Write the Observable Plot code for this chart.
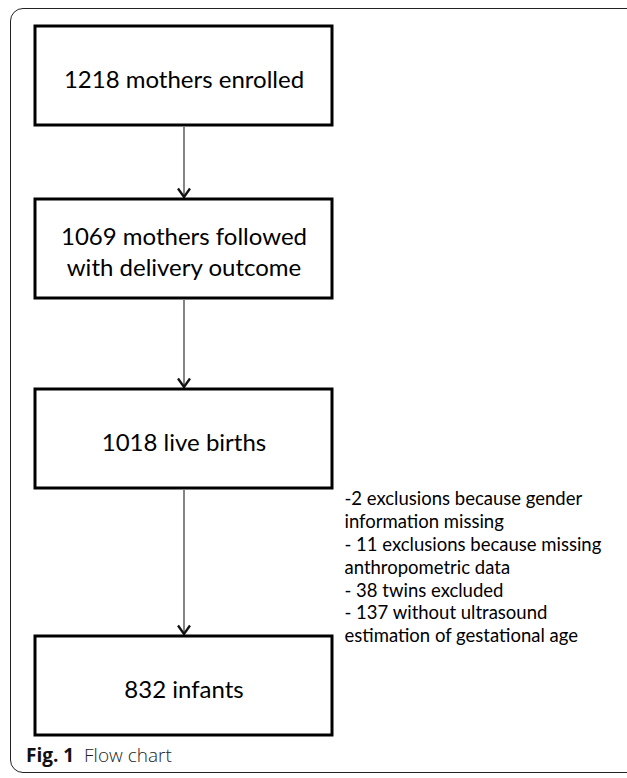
<!DOCTYPE html>
<html>
<head>
<meta charset="utf-8">
<script src="https://cdn.jsdelivr.net/npm/d3@7"></script>
<script src="https://cdn.jsdelivr.net/npm/@observablehq/plot@0.6"></script>
<style>
  body { margin: 0; background: #fff; }
  #wrap { position: relative; width: 627px; height: 778px; overflow: hidden; background: #fff; }
  #frame { position: absolute; left: 10px; top: 8px; width: 700px; height: 765px; border: 1px solid #222; border-radius: 13px; box-sizing: border-box; }
  #chart { position: absolute; left: 0; top: 0; }
  #caption { position: absolute; left: 26px; top: 742px; font-family: "Open Sans", sans-serif; font-size: 19px; color: #222; white-space: pre; }
  #caption b { font-weight: 700; color: #111; }
  #caption span { font-weight: 300; }
</style>
</head>
<body>
<div id="wrap">
  <div id="frame"></div>
  <div id="chart"></div>
  <div id="caption"></div>
</div>
<script>
// ---- data ----
const stageLabels = [
  "1218 mothers enrolled",
  "1069 mothers followed\nwith delivery outcome",
  "1018 live births",
  "832 infants"
];
const stageCounts = [1218, 1069, 1018, 832];
const exclusionNotes = [
  "-2 exclusions because gender",
  "information missing",
  "- 11 exclusions because missing",
  "anthropometric data",
  "- 38 twins excluded",
  "- 137 without ultrasound",
  "estimation of gestational age"
];
const captionLabel = "Fig. 1";
const captionText = "Flow chart";

// ---- layout (separate from data) ----
const layout = {
  boxLeft: 35, boxRight: 332,
  boxTops: [26, 199, 389, 636],
  boxHeight: 99,
  notesX: 344,
  notesAfterStage: 2
};

const stages = stageLabels.map((label, i) => ({
  label, count: stageCounts[i],
  y1: layout.boxTops[i], y2: layout.boxTops[i] + layout.boxHeight
}));
const links = stages.slice(1).map((s, i) => ({ from: stages[i], to: s }));
const cx = (layout.boxLeft + layout.boxRight) / 2;

const vSymbol = {
  draw(context) {
    context.moveTo(-6, -8.5);
    context.lineTo(0, 0);
    context.lineTo(6, -8.5);
  }
};

const chart = Plot.plot({
  width: 627,
  height: 742,
  margin: 0,
  style: { background: "transparent", overflow: "visible" },
  x: { domain: [0, 627], range: [0, 627], axis: null },
  y: { domain: [0, 742], range: [0, 742], axis: null },
  marks: [
    Plot.link(links, {
      x1: cx, x2: cx,
      y1: d => d.from.y2 + 1.5, y2: d => d.to.y1 - 2,
      stroke: "#333", strokeWidth: 1.2
    }),
    Plot.dot(links, {
      x: cx, y: d => d.to.y1 - 2.5,
      symbol: vSymbol, r: 5, fill: "none",
      stroke: "#111", strokeWidth: 2.3, strokeLinejoin: "miter"
    }),
    Plot.rect(stages, {
      x1: layout.boxLeft, x2: layout.boxRight, y1: "y1", y2: "y2",
      fill: "white", stroke: "#000", strokeWidth: 3
    }),
    Plot.text(stages, {
      x: cx, y: d => (d.y1 + d.y2) / 2 + 2,
      text: "label", lineAnchor: "middle", textAnchor: "middle",
      fontFamily: "Lato, sans-serif", fontSize: 24, lineHeight: 1.29,
      fill: "#000"
    }),
    Plot.text([exclusionNotes.join("\n")], {
      x: layout.notesX, y: stages[layout.notesAfterStage].y2,
      text: d => d, lineAnchor: "top", textAnchor: "start",
      fontFamily: "Lato, sans-serif", fontSize: 18.5, lineHeight: 1.24,
      fill: "#000"
    })
  ]
});
document.getElementById("chart").appendChild(chart);

const cap = document.getElementById("caption");
const b = document.createElement("b");
b.textContent = captionLabel;
const s = document.createElement("span");
s.textContent = "  " + captionText;
cap.appendChild(b);
cap.appendChild(s);
</script>
</body>
</html>
